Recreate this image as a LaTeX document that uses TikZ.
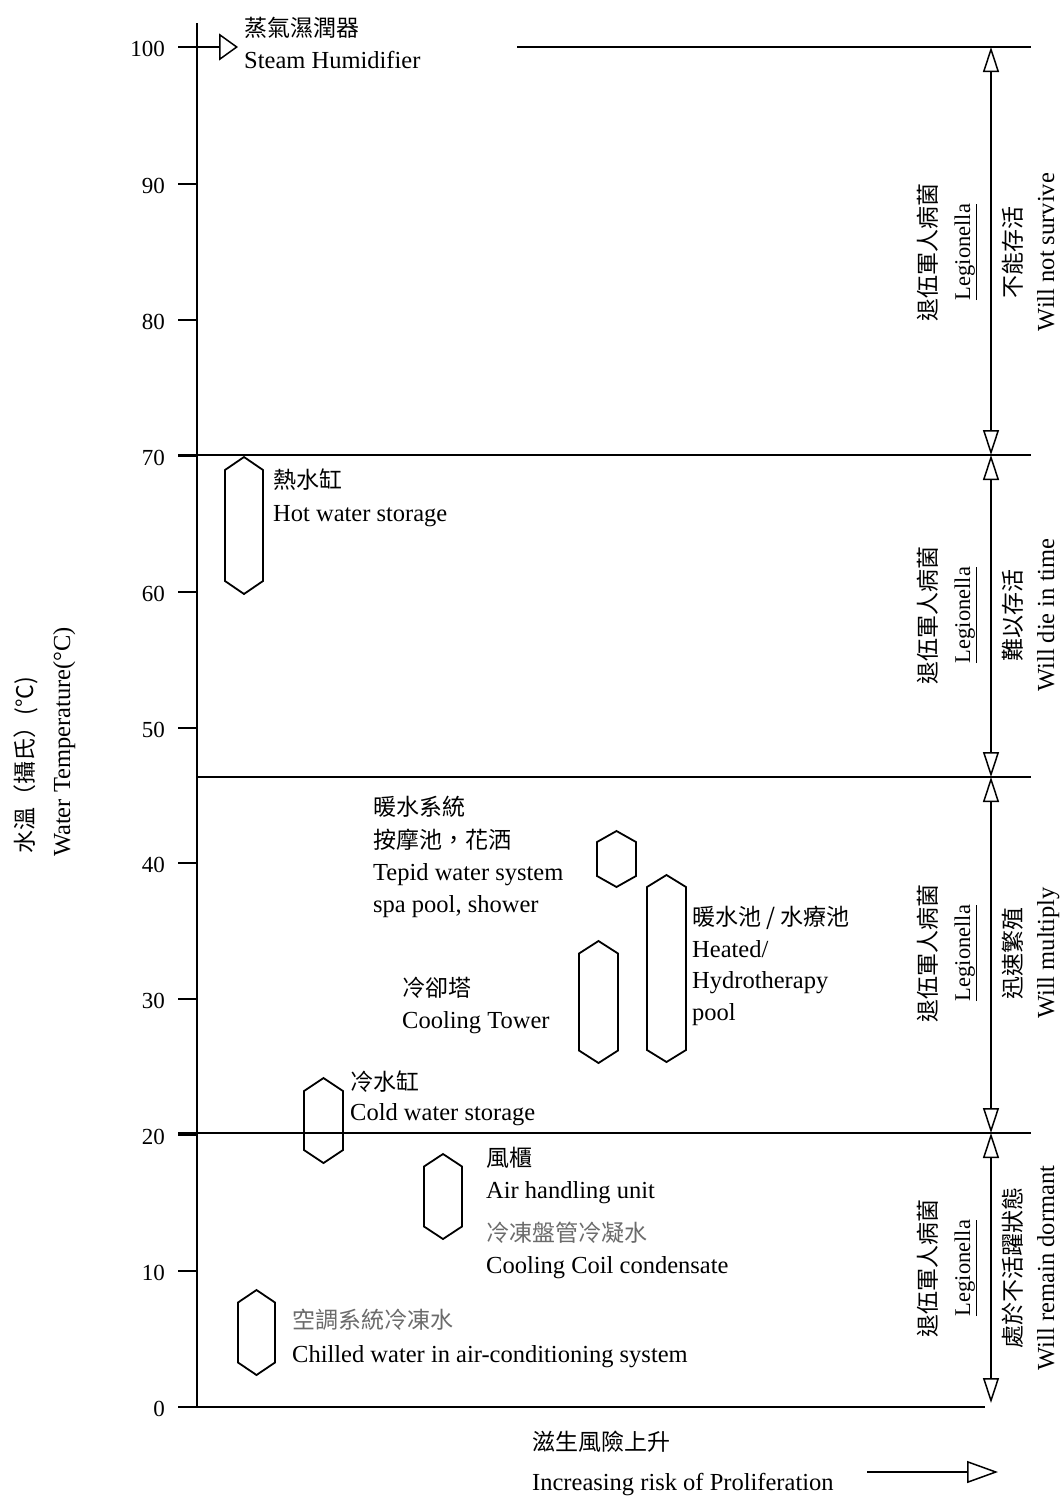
\documentclass[tikz,border=0pt]{standalone}
\usepackage{fontspec}
\setmainfont{Liberation Serif}
\newfontfamily\cjk{Noto Sans CJK TC}
\usetikzlibrary{arrows.meta}
\definecolor{lightink}{gray}{0.42}
\tikzset{
  en/.style={font=\fontsize{24.5}{28}\selectfont, inner sep=0pt, text height=18pt, text depth=3.7pt},
  zh/.style={font=\fontsize{23}{27}\selectfont\cjk, inner sep=0pt, text height=20pt, text depth=3pt},
  lab/.style={anchor=west},
  ticklab/.style={font=\fontsize{23}{26}\selectfont, anchor=east, inner sep=0pt, text height=16pt, text depth=0pt},
  axisline/.style={line width=1.5pt},
  band/.style={line width=1.5pt, {Triangle[open,length=25pt,width=16pt,line width=1.5pt]}-{Triangle[open,length=25pt,width=16pt,line width=1.5pt]}},
  capsule/.style={line width=1.8pt, line join=miter},
  rot/.style={rotate=90, anchor=center},
}
\newcommand\capsuleshape[5]{%
  \draw[capsule] (#1,#3) -- (#1+#2,#3+#5) -- (#1+#2,#4-#5) -- (#1,#4) -- (#1-#2,#4-#5) -- (#1-#2,#3+#5) -- cycle;}
\begin{document}
\begin{tikzpicture}[x=1pt,y=-1pt]
\useasboundingbox (0,0) rectangle (1063,1497);
\fill[white] (0,0) rectangle (1063,1497);

% axis
\coordinate (axtop) at (197,23);
\coordinate (axbot) at (197,1407);
\draw[axisline] (axtop) -- (axbot);

% ticks and labels
\foreach \v/\yy in {100/47,90/184,80/320,70/456,60/592,50/728,40/863,30/999,20/1135,10/1271,0/1407}{
  \coordinate (tk\v) at (178,\yy);
  \coordinate (ta\v) at (197,\yy);
  \draw[axisline] (tk\v) -- (ta\v);
  \node[ticklab] (t\v) at (165,\yy+1) {\v};
}

% horizontal band lines
\coordinate (h100a) at (517,47);  \coordinate (h100b) at (1031,47);
\coordinate (h70a) at (178,455);  \coordinate (h70b) at (1031,455);
\coordinate (h46a) at (197,777);  \coordinate (h46b) at (1031,777);
\coordinate (h20a) at (178,1133); \coordinate (h20b) at (1031,1133);
\coordinate (h0b) at (985,1407);
\draw[axisline] (h100a) -- (h100b);
\draw[axisline] (h70a) -- (h70b);
\draw[axisline] (h46a) -- (h46b);
\draw[axisline] (h20a) -- (h20b);
\draw[axisline] (tk0) -- (h0b);

% right band arrows
\coordinate (r100) at (991,47);
\coordinate (r70) at (991,455);
\coordinate (r46) at (991,777);
\coordinate (r20) at (991,1133);
\coordinate (r0) at (991,1403);
\draw[band] (r100) -- (r70);
\draw[band] (r70) -- (r46);
\draw[band] (r46) -- (r20);
\draw[band] (r20) -- (r0);

% steam humidifier
\coordinate (steamtip) at (238,47);
\draw[line width=1.5pt, -{Triangle[open,length=19pt,width=27pt,line width=1.5pt]}] (tk100) -- (steamtip);
\node[zh,lab] (steamzh) at (244,28) {蒸氣濕潤器};
\node[en,lab] (steamen) at (244,61) {Steam Humidifier};

% capsules
\capsuleshape{244}{19}{457}{594}{13}
\capsuleshape{616.5}{19.5}{831}{887}{11}
\capsuleshape{598.5}{19.5}{941}{1063}{12.5}
\capsuleshape{666.5}{19.5}{875}{1062}{12}
\capsuleshape{323.5}{19.5}{1078}{1163}{13}
\capsuleshape{443}{19}{1154}{1239}{12.5}
\capsuleshape{256.5}{18.5}{1290}{1375}{12.5}

% labels
\node[zh,lab] (hotzh) at (273,480) {熱水缸};
\node[en,lab] (hoten) at (273,514) {Hot water storage};

\node[zh,lab] (tepzh1) at (373,807) {暖水系統};
\node[zh,lab] (tepzh2) at (373,840) {按摩池，花洒};
\node[en,lab] (tepen1) at (373,873) {Tepid water system};
\node[en,lab] (tepen2) at (373,905) {spa pool, shower};

\node[zh,lab] (ctzh) at (402,988) {冷卻塔};
\node[en,lab] (cten) at (402,1021) {Cooling Tower};

\node[zh,lab] (hpzh) at (692,917) {暖水池 / 水療池};
\node[en,lab] (hpen1) at (692,950) {Heated/};
\node[en,lab] (hpen2) at (692,981) {Hydrotherapy};
\node[en,lab] (hpen3) at (692,1013) {pool};

\node[zh,lab] (cwzh) at (350,1082) {冷水缸};
\node[en,lab] (cwen) at (350,1113) {Cold water storage};

\node[zh,lab] (ahuzh) at (486,1158) {風櫃};
\node[en,lab] (ahuen) at (486,1191) {Air handling unit};
\node[zh,lab,text=lightink] (cczh) at (486,1233) {冷凍盤管冷凝水};
\node[en,lab] (ccen) at (486,1266) {Cooling Coil condensate};

\node[zh,lab,text=lightink] (chzh) at (292,1320) {空調系統冷凍水};
\node[en,lab] (chen) at (292,1355) {Chilled water in air-conditioning system};

% axis titles
\node[zh,rot] (yzh) at (25,765) {水溫（攝氏）(°C)};
\node[en,rot] (yen) at (63,742) {Water Temperature(°C)};

\node[zh,lab] (xzh) at (532,1442) {滋生風險上升};
\node[en,lab] (xen) at (532,1483) {Increasing risk of Proliferation};
\coordinate (xa) at (867,1472);
\coordinate (xb) at (998,1472);
\draw[line width=1.5pt, -{Triangle[open,length=31pt,width=22pt,line width=1.5pt]}] (xa) -- (xb);

% right side band labels
\foreach \n/\yy/\zhb/\enb in {a/252/不能存活/Will not survive, b/615/難以存活/Will die in time, c/953/迅速繁殖/Will multiply, d/1268/處於不活躍狀態/Will remain dormant}{
  \node[zh,rot] (lz\n) at (928,\yy) {退伍軍人病菌};
  \node[en,rot,font=\fontsize{22.5}{26}\selectfont] (le\n) at (963,\yy) {\underline{Legionella}};
  \node[zh,rot] (bz\n) at (1013,\yy) {\zhb};
  \node[en,rot] (be\n) at (1047,\yy) {\enb};
}
\end{tikzpicture}
\end{document}
